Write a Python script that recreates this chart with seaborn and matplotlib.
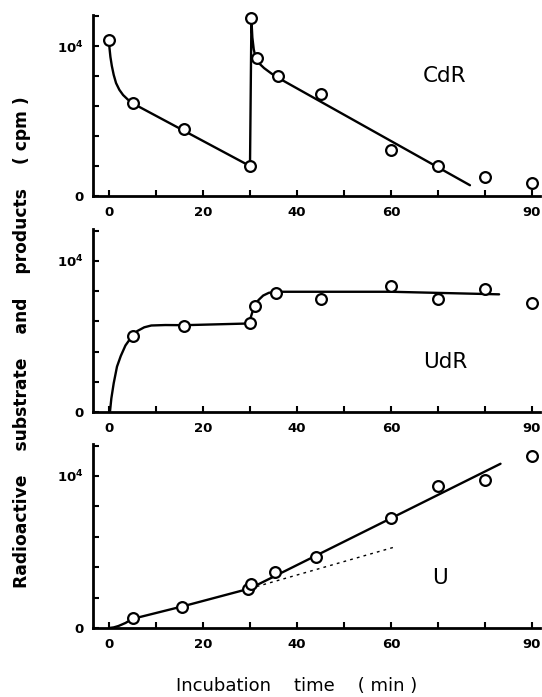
import matplotlib
matplotlib.use("Agg")
import matplotlib.pyplot as plt
import seaborn as sns
import pandas as pd

# ---------------- data ----------------
# CdR panel
cdr_t = [0, 5, 16, 30, 30.3, 31.4, 36, 45, 60, 70, 80, 90]
cdr_v = [10400, 6200, 4500, 2000, 11900, 9200, 8000, 6800, 3100, 2000, 1300, 900]
cdr_curve_t = [0, 0.1, 0.3, 0.6, 1.0, 1.5, 2.2, 3.0, 4.0, 5, 30,
               30.3, 30.5, 30.8, 31.2, 32.0, 33.0, 34.5, 35.7, 76.8]
cdr_curve_v = [10400, 9900, 9300, 8700, 8100, 7550, 7100, 6750, 6450, 6200, 2000,
               11800, 10600, 9800, 9250, 8850, 8550, 8200, 7950, 720]

# UdR panel
udr_t = [5, 16, 30, 31, 35.5, 45, 60, 70, 80, 90]
udr_v = [5000, 5700, 5900, 7000, 7900, 7500, 8350, 7500, 8100, 7200]
udr_curve_t = [0.2, 0.5, 1.0, 1.7, 2.5, 3.5, 4.8, 6.0, 7.5, 9.0, 12, 16,
               29.5, 30.0, 30.5, 31.0, 31.8, 32.8, 34.0, 35.5, 60, 83]
udr_curve_v = [0, 900, 1900, 3000, 3700, 4400, 4970, 5350, 5600, 5720, 5750, 5740,
               5850, 6100, 6600, 7000, 7400, 7700, 7880, 7950, 7950, 7780]

# U panel
u_t = [5, 15.5, 29.5, 30.2, 35.3, 44, 60, 70, 80, 90]
u_v = [650, 1350, 2550, 2900, 3700, 4700, 7250, 9350, 9750, 11300]
u_curve_t = [0, 1, 2, 3.5, 5, 16, 30, 83.3]
u_curve_v = [0, 40, 130, 330, 600, 1450, 2600, 10800]
u_dot_t = [30, 60.5]
u_dot_v = [2600, 5300]

panel_names = ["CdR", "UdR", "U"]
xtick_vals = [0, 10, 20, 30, 40, 50, 60, 70, 80, 90]
xtick_labels = ["0", "", "20", "", "40", "", "60", "", "", "90"]
ytick_vals = [0, 2000, 4000, 6000, 8000, 10000, 12000]
ytick_labels = ["0", "", "", "", "", r"10$^{\mathbf{4}}$", ""]

# ---------------- style ----------------
sns.set_style("ticks")
plt.rcParams["font.family"] = ["DejaVu Sans"]
plt.rcParams["mathtext.default"] = "bf"
plt.rcParams.update({
    "text.color": "black", "axes.edgecolor": "black", "axes.labelcolor": "black",
    "xtick.color": "black", "ytick.color": "black",
})

W, H = 542, 697
fig = plt.figure(figsize=(W / 100, H / 100), dpi=100)

# axes boxes in pixel coordinates: (left, top, right, bottom)
boxes = [(93, 15, 540, 196), (93, 229, 540, 412), (93, 444, 540, 628)]
x0_pix = 109
px_per_min = 4.7

panels = [
    (cdr_t, cdr_v, cdr_curve_t, cdr_curve_v),
    (udr_t, udr_v, udr_curve_t, udr_curve_v),
    (u_t, u_v, u_curve_t, u_curve_v),
]
label_pos = [(71.5, 8000), (71.5, 3300), (70.5, 3300)]

for i, ((pt, pv, ct, cv), box) in enumerate(zip(panels, boxes)):
    l, t, r, b = box
    ax = fig.add_axes([l / W, 1 - b / H, (r - l) / W, (b - t) / H])
    pts = pd.DataFrame({"t": pt, "v": pv})
    crv = pd.DataFrame({"t": ct, "v": cv})
    sns.lineplot(data=crv, x="t", y="v", sort=False, estimator=None,
                 color="black", linewidth=1.7, ax=ax, zorder=2)
    if i == 2:
        dot = pd.DataFrame({"t": u_dot_t, "v": u_dot_v})
        sns.lineplot(data=dot, x="t", y="v", sort=False, estimator=None,
                     color="black", linewidth=1.0, linestyle=(0, (2, 3)), ax=ax, zorder=2)
    sns.scatterplot(data=pts, x="t", y="v", marker="o", s=60,
                    facecolor="white", edgecolor="black", linewidth=1.6,
                    ax=ax, zorder=3, clip_on=False)
    xl = -(x0_pix - l) / px_per_min
    xr = (r - x0_pix) / px_per_min
    ax.set_xlim(xl, xr)
    ax.set_ylim(0, 12100)
    ax.set_xticks(xtick_vals)
    ax.set_xticklabels(xtick_labels, fontsize=9.5, fontweight="bold")
    ax.set_yticks(ytick_vals)
    ax.set_yticklabels(ytick_labels, fontsize=9.5, fontweight="bold")
    ax.tick_params(axis="both", direction="in", length=4, width=1.5, pad=7)
    ax.set_xlabel("")
    ax.set_ylabel("")
    sns.despine(ax=ax)
    for s in ("left", "bottom"):
        ax.spines[s].set_linewidth(2)
    ax.text(label_pos[i][0], label_pos[i][1], panel_names[i], fontsize=15.5,
            ha="center", va="center")

fig.text(22 / W, 1 - 342 / H,
         "Radioactive    substrate    and    products    ( cpm )",
         rotation=90, ha="center", va="center", fontsize=12.3, fontweight="bold")
fig.text(297 / W, 1 - 686 / H, "Incubation    time    ( min )",
         ha="center", va="center", fontsize=13)

fig.savefig("out.png", dpi=100, facecolor="white")
